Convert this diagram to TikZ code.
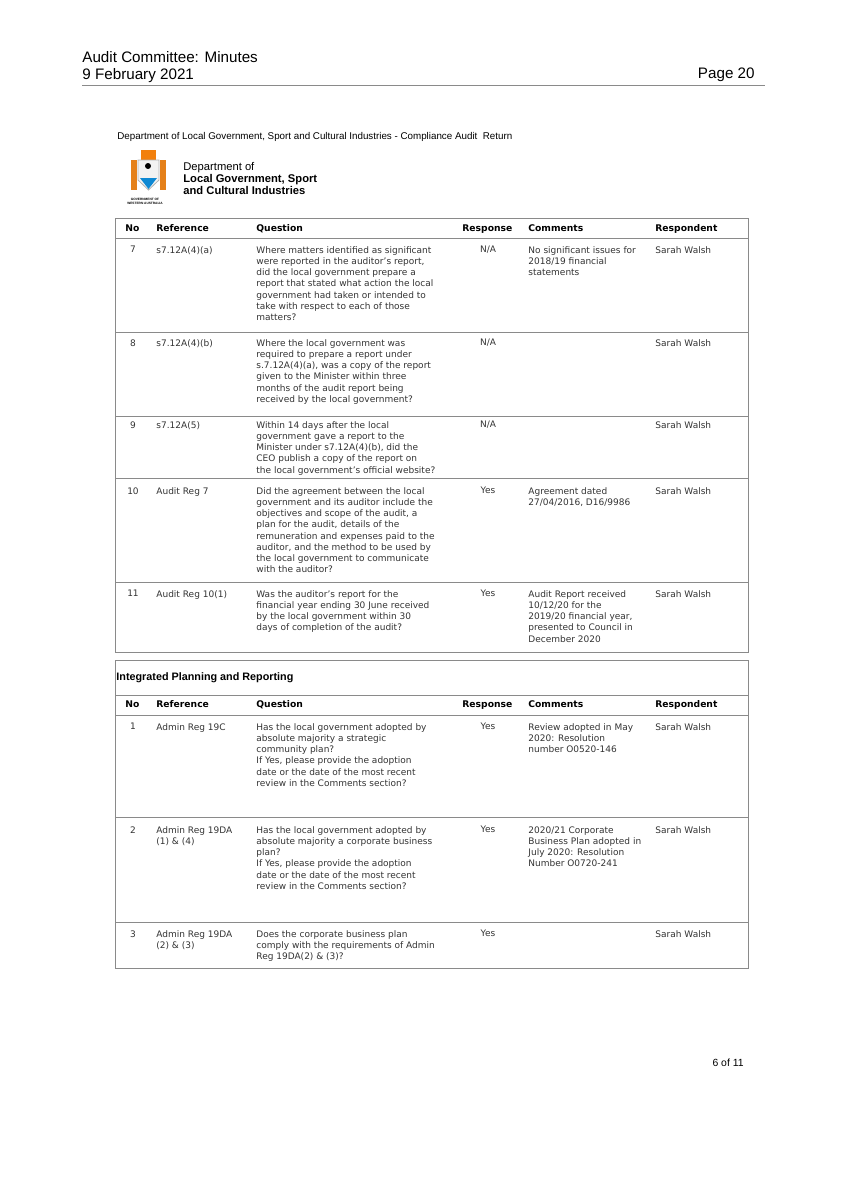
\documentclass[tikz,border=0pt]{standalone}
\usepackage{fontspec}
\setmainfont{DejaVu Sans}
\newfontfamily\arialfont{Liberation Sans}
\definecolor{rulegray}{HTML}{8A8A8A}
\definecolor{txtgray}{HTML}{333333}
\tikzset{
  cell/.style={anchor=north west, inner sep=0pt, align=left, text=txtgray,
    font=\fontsize{4.5}{5.6}\selectfont},
  numcell/.style={cell, anchor=north},
  headcell/.style={cell, font=\fontsize{4.6}{5.6}\selectfont\bfseries, text=black},
  tabline/.style={draw=rulegray, line width=0.5pt},
  pagetext/.style={anchor=north west, inner sep=0pt, align=left, font=\arialfont\fontsize{7.6}{8.6}\selectfont}
}
\begin{document}
\begin{tikzpicture}[x=0.5pt,y=-0.5pt]
  \useasboundingbox (0,0) rectangle (844,1193);
  % page header
  \node[pagetext] (title) at (82,51) {Audit Committee: Minutes\\9 February 2021};
  \node[pagetext, anchor=north east] (page) at (755,67) {Page 20};
  \draw[line width=0.4pt, rulegray] (82,85) -- (765,85);
  \node[anchor=west, inner sep=0pt, font=\arialfont\fontsize{4.9}{5.5}\selectfont] (doc) at (117,137)
    {Department of Local Government, Sport and Cultural Industries - Compliance Audit\ \ Return};
  % logo
  \fill[orange!60!brown] (131,160) rectangle (137,190);
  \fill[orange!60!brown] (160,160) rectangle (166,190);
  \fill[orange!80!brown] (141,150) rectangle (156,160);
  \draw[gray!60, fill=gray!10] (138,160) -- (159,160) -- (159,180) -- (148.5,190) -- (138,180) -- cycle;
  \fill[black] (148,166) circle (3);
  \fill[cyan!70!blue] (140,178) -- (157,178) -- (148.5,189) -- cycle;
  \node[inner sep=0pt, font=\arialfont\fontsize{1.6}{1.9}\selectfont\bfseries, align=center] (gov) at (145,201)
    {GOVERNMENT OF\\WESTERN AUSTRALIA};
  \node[anchor=north west, inner sep=0pt, align=left, font=\arialfont\fontsize{5.6}{6.1}\selectfont] (dept) at (183,162)
    {Department of\\\textbf{Local Government, Sport}\\\textbf{and Cultural Industries}};
  % table 1
  \draw[tabline] (115,218) rectangle (748,652);
  \foreach \y in {238,332,416,478,582} \draw[tabline] (115,\y) -- (748,\y);
  \node[headcell] (h-no) at (125,224) {No};
  \node[headcell] (h-ref) at (156,224) {Reference};
  \node[headcell] (h-q) at (256,224) {Question};
  \node[headcell] (h-resp) at (462,224) {Response};
  \node[headcell] (h-com) at (528,224) {Comments};
  \node[headcell] (h-who) at (655,224) {Respondent};
  % row 7
  \node[numcell] (n7) at (133,246) {7};
  \node[cell] (r7) at (156,246) {s7.12A(4)(a)};
  \node[cell] (q7) at (256,246) {Where matters identified as significant\\were reported in the auditor’s report,\\did the local government prepare a\\report that stated what action the local\\government had taken or intended to\\take with respect to each of those\\matters?};
  \node[numcell] (a7) at (488,246) {N/A};
  \node[cell] (c7) at (528,246) {No significant issues for\\2018/19 financial\\statements};
  \node[cell] (w7) at (655,246) {Sarah Walsh};
  % row 8
  \node[numcell] (n8) at (133,339) {8};
  \node[cell] (r8) at (156,339) {s7.12A(4)(b)};
  \node[cell] (q8) at (256,339) {Where the local government was\\required to prepare a report under\\s.7.12A(4)(a), was a copy of the report\\given to the Minister within three\\months of the audit report being\\received by the local government?};
  \node[numcell] (a8) at (488,339) {N/A};
  \node[cell] (w8) at (655,339) {Sarah Walsh};
  % row 9
  \node[numcell] (n9) at (133,421) {9};
  \node[cell] (r9) at (156,421) {s7.12A(5)};
  \node[cell] (q9) at (256,421) {Within 14 days after the local\\government gave a report to the\\Minister under s7.12A(4)(b), did the\\CEO publish a copy of the report on\\the local government’s official website?};
  \node[numcell] (a9) at (488,421) {N/A};
  \node[cell] (w9) at (655,421) {Sarah Walsh};
  % row 10
  \node[numcell] (n10) at (133,487) {10};
  \node[cell] (r10) at (156,487) {Audit Reg 7};
  \node[cell] (q10) at (256,487) {Did the agreement between the local\\government and its auditor include the\\objectives and scope of the audit, a\\plan for the audit, details of the\\remuneration and expenses paid to the\\auditor, and the method to be used by\\the local government to communicate\\with the auditor?};
  \node[numcell] (a10) at (488,487) {Yes};
  \node[cell] (c10) at (528,487) {Agreement dated\\27/04/2016, D16/9986};
  \node[cell] (w10) at (655,487) {Sarah Walsh};
  % row 11
  \node[numcell] (n11) at (133,590) {11};
  \node[cell] (r11) at (156,590) {Audit Reg 10(1)};
  \node[cell] (q11) at (256,590) {Was the auditor’s report for the\\financial year ending 30 June received\\by the local government within 30\\days of completion of the audit?};
  \node[numcell] (a11) at (488,590) {Yes};
  \node[cell] (c11) at (528,590) {Audit Report received\\10/12/20 for the\\2019/20 financial year,\\presented to Council in\\December 2020};
  \node[cell] (w11) at (655,590) {Sarah Walsh};
  % table 2
  \draw[tabline] (115,660) rectangle (748,968);
  \foreach \y in {695,715,817,922} \draw[tabline] (115,\y) -- (748,\y);
  \node[anchor=west, inner sep=0pt, font=\arialfont\fontsize{5.4}{6}\selectfont\bfseries] (ipr) at (116,678) {Integrated Planning and Reporting};
  \node[headcell] (g-no) at (125,700) {No};
  \node[headcell] (g-ref) at (156,700) {Reference};
  \node[headcell] (g-q) at (256,700) {Question};
  \node[headcell] (g-resp) at (462,700) {Response};
  \node[headcell] (g-com) at (528,700) {Comments};
  \node[headcell] (g-who) at (655,700) {Respondent};
  % row 1
  \node[numcell] (m1) at (133,723) {1};
  \node[cell] (s1) at (156,723) {Admin Reg 19C};
  \node[cell] (p1) at (256,723) {Has the local government adopted by\\absolute majority a strategic\\community plan?\\If Yes, please provide the adoption\\date or the date of the most recent\\review in the Comments section?};
  \node[numcell] (b1) at (488,723) {Yes};
  \node[cell] (d1) at (528,723) {Review adopted in May\\2020: Resolution\\number O0520-146};
  \node[cell] (v1) at (655,723) {Sarah Walsh};
  % row 2
  \node[numcell] (m2) at (133,826) {2};
  \node[cell] (s2) at (156,826) {Admin Reg 19DA\\(1) \& (4)};
  \node[cell] (p2) at (256,826) {Has the local government adopted by\\absolute majority a corporate business\\plan?\\If Yes, please provide the adoption\\date or the date of the most recent\\review in the Comments section?};
  \node[numcell] (b2) at (488,826) {Yes};
  \node[cell] (d2) at (528,826) {2020/21 Corporate\\Business Plan adopted in\\July 2020: Resolution\\Number O0720-241};
  \node[cell] (v2) at (655,826) {Sarah Walsh};
  % row 3
  \node[numcell] (m3) at (133,930) {3};
  \node[cell] (s3) at (156,930) {Admin Reg 19DA\\(2) \& (3)};
  \node[cell] (p3) at (256,930) {Does the corporate business plan\\comply with the requirements of Admin\\Reg 19DA(2) \& (3)?};
  \node[numcell] (b3) at (488,930) {Yes};
  \node[cell] (v3) at (655,930) {Sarah Walsh};
  % footer
  \node[anchor=east, inner sep=0pt, font=\arialfont\fontsize{5.2}{6}\selectfont] (pg) at (744,1063) {6 of 11};
\end{tikzpicture}
\end{document}
